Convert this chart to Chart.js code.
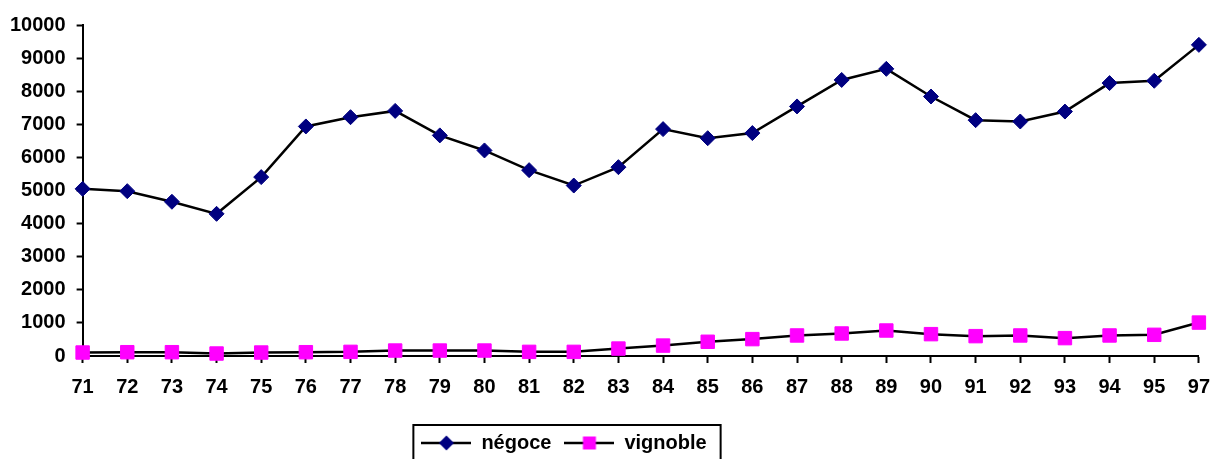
<!DOCTYPE html>
<html>
<head>
<meta charset="utf-8">
<script src="https://cdn.jsdelivr.net/npm/chart.js@4/dist/chart.umd.min.js"></script>
<style>
  html, body { margin: 0; padding: 0; background: #fff; }
  canvas { display: block; }
</style>
</head>
<body>
<canvas id="myChart" width="1222" height="459"></canvas>
<script>
// years (96 is missing in the source)
const years = ['71', '72', '73', '74', '75', '76', '77', '78', '79', '80', '81', '82', '83',
    '84', '85', '86', '87', '88', '89', '90', '91', '92', '93', '94', '95', '97'];

const negoce = [5050, 4980, 4660, 4295, 5405, 6935, 7215, 7405, 6665, 6210, 5615, 5150, 5705,
    6855, 6580, 6735, 7540, 8340, 8675, 7840, 7125, 7085, 7385, 8245, 8315, 9400];

const vignoble = [105, 115, 115, 75, 105, 115, 125, 165, 165, 165, 125, 125, 225,
    315, 430, 510, 620, 680, 770, 660, 600, 620, 540, 620, 640, 1010];

const yMin = 0;
const yMax = 10000;
const yStep = 1000;

const FONT = { family: '"Liberation Sans", Arial, sans-serif', size: 20, weight: 'bold' };

/**
 * little line + marker picture for the legend
 * @param {string} shape
 * @param {string} color
 */
function legendMarker(shape, color) {
    const c = document.createElement('canvas');
    c.width = 50;
    c.height = 16;
    const g = c.getContext('2d');
    g.strokeStyle = '#000';
    g.lineWidth = 2.5;
    g.beginPath();
    g.moveTo(0, 8);
    g.lineTo(50, 8);
    g.stroke();
    g.fillStyle = color;
    g.beginPath();
    if (shape === 'diamond') {
        g.moveTo(25, 0.5);
        g.lineTo(32.5, 8);
        g.lineTo(25, 15.5);
        g.lineTo(17.5, 8);
        g.closePath();
    } else {
        g.rect(18.5, 1.5, 13, 13);
    }
    g.fill();
    return c;
}

const markers = [legendMarker('diamond', '#000080'), legendMarker('square', '#ff00ff')];

// move the legend where the original has it and put a frame round it
const legendFrame = {
    id: 'legendFrame',
    afterLayout(chart) {
        const lg = chart.legend;
        const dx = 564 - (lg.left + lg.right) / 2;
        lg.left += dx;
        lg.right += dx;
        lg.top += 4;
        lg.bottom += 4;
    },
    afterDraw(chart) {
        const boxes = chart.legend.legendHitBoxes;
        if (!boxes || !boxes.length) return;
        const first = boxes[0];
        const last = boxes[boxes.length - 1];
        const x1 = first.left - 8;
        const x2 = last.left + last.width + 14;
        const y1 = first.top + first.height / 2 - 18;
        const ctx = chart.ctx;
        ctx.save();
        ctx.strokeStyle = '#000';
        ctx.lineWidth = 2;
        ctx.strokeRect(x1, y1, x2 - x1, chart.height + 10 - y1);
        ctx.restore();
    }
};

const canvas = /** @type {HTMLCanvasElement} */ (document.getElementById('myChart'));

new Chart(canvas.getContext('2d'), {
    type: 'line',
    data: {
        labels: years,
        datasets: [
            {
                label: 'négoce',
                data: negoce,
                borderColor: '#000',
                borderWidth: 2.5,
                pointStyle: 'rectRot',
                pointRadius: 7.5,
                pointBackgroundColor: '#000080',
                pointBorderColor: '#000080',
                pointBorderWidth: 1,
                tension: 0,
                clip: false
            },
            {
                label: 'vignoble',
                data: vignoble,
                borderColor: '#000',
                borderWidth: 2.5,
                pointStyle: 'rect',
                pointRadius: 9.5,
                pointBackgroundColor: '#ff00ff',
                pointBorderColor: '#ff00ff',
                pointBorderWidth: 1,
                tension: 0,
                clip: false
            }
        ]
    },
    plugins: [legendFrame],
    options: {
        responsive: false,
        animation: false,
        layout: { padding: { top: 25, left: -1, right: 14, bottom: 0 } },
        plugins: {
            tooltip: { enabled: false },
            legend: {
                position: 'bottom',
                labels: {
                    usePointStyle: true,
                    pointStyleWidth: 50,
                    padding: 13,
                    color: '#000',
                    font: FONT,
                    generateLabels(chart) {
                        const items = Chart.defaults.plugins.legend.labels.generateLabels(chart);
                        items.forEach((item, i) => { item.pointStyle = markers[i]; });
                        return items;
                    }
                }
            }
        },
        scales: {
            x: {
                offset: false,
                grid: {
                    offset: false,
                    drawOnChartArea: false,
                    drawTicks: true,
                    tickLength: 7,
                    tickColor: '#000',
                    tickWidth: 2
                },
                border: { display: true, color: '#000', width: 2 },
                ticks: {
                    autoSkip: false,
                    maxRotation: 0,
                    padding: 12,
                    color: '#000',
                    font: FONT
                },
                afterFit(scale) { scale.height = 60; }
            },
            y: {
                min: yMin,
                max: yMax,
                grid: {
                    drawOnChartArea: false,
                    drawTicks: true,
                    tickLength: 6,
                    tickColor: '#000',
                    tickWidth: 2
                },
                border: { display: true, color: '#000', width: 2 },
                ticks: {
                    stepSize: yStep,
                    padding: 11,
                    color: '#000',
                    font: FONT,
                    callback: (value) => String(value)
                }
            }
        }
    }
});
</script>
</body>
</html>
